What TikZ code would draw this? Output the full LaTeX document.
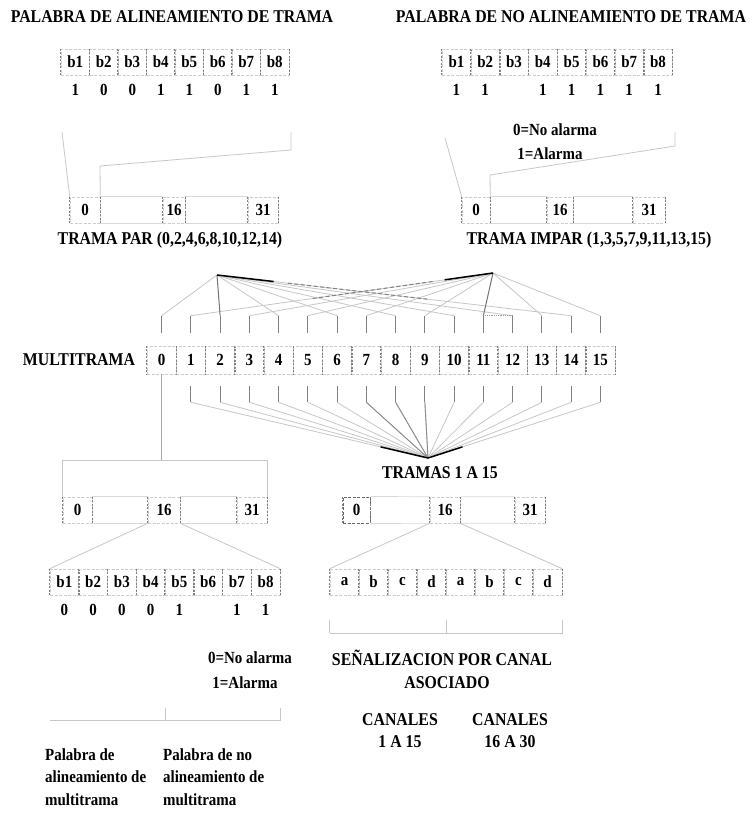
\documentclass[tikz,border=0pt]{standalone}
\usepackage{fontspec}
\setmainfont{Liberation Serif}[FakeStretch=0.88]
\usetikzlibrary{calc}
\begin{document}
\begin{tikzpicture}[x=1pt,y=-1pt,
  lbl/.style={inner sep=0pt, font=\fontsize{18}{22}\selectfont\bfseries},
  bit/.style={inner sep=0pt, font=\fontsize{17}{19}\selectfont\bfseries},
  divider/.style={draw=black!50, dash pattern=on 2pt off 1.5pt, line width=0.8pt},
  cellbox/.style={draw=black!20, dash pattern=on 3pt off 1.5pt, line width=0.6pt, minimum width=#1, minimum height=26pt, inner sep=0pt, font=\fontsize{17}{19}\selectfont\bfseries,
    append after command={(\tikzlastnode.north west) edge[divider] (\tikzlastnode.south west)
                          (\tikzlastnode.north east) edge[divider] (\tikzlastnode.south east)}},
  faint/.style={draw=black!22, line width=0.8pt},
  fdash/.style={draw=black!50, line width=1pt, dash pattern=on 4pt off 2.5pt},
  heavy/.style={draw=black, line width=1.5pt},
  strip/.style={draw=black!15, line width=0.7pt},
  tick/.style={draw=black!50, line width=0.8pt}
]
\useasboundingbox[fill=white] (0,0) rectangle (753,817);

% titles
\node[lbl] (t1) at (172,17) {PALABRA DE ALINEAMIENTO DE TRAMA};
\node[lbl] (t2) at (571,17) {PALABRA DE NO ALINEAMIENTO DE TRAMA};

% top-left bits
\foreach \i in {1,...,8} \node[cellbox=28.5pt] (tl\i) at ({61+28.5*(\i-0.5)},62) {b\i};
\foreach \i/\v in {1/1,2/0,3/0,4/1,5/1,6/0,7/1,8/1} \node[bit] (tlv\i) at (tl\i |- 0,90) {\v};

% top-right bits
\foreach \i in {1,...,8} \node[cellbox=28.8pt] (tr\i) at ({442+28.8*(\i-0.5)},62) {b\i};
\foreach \i in {1,2,4,5,6,7,8} \node[bit] (trv\i) at (tr\i |- 0,90) {1};
\node[bit] (na1) at (555,130) {0=No alarma};
\node[bit] (na2) at (550,154) {1=Alarma};

% upper frames
\node[cellbox=30pt] (fl0) at (85,210) {0};
\node[cellbox=22pt] (fl16) at (174,210) {16};
\node[cellbox=30pt] (fl31) at (263,210) {31};
\draw[strip] (fl0.north east) -- (fl16.north west) (fl0.south east) -- (fl16.south west)
             (fl16.north east) -- (fl31.north west) (fl16.south east) -- (fl31.south west);
\node[cellbox=28pt] (fr0) at (476,210) {0};
\node[cellbox=26pt] (fr16) at (560,210) {16};
\node[cellbox=32pt] (fr31) at (649,210) {31};
\draw[strip] (fr0.north east) -- (fr16.north west) (fr0.south east) -- (fr16.south west)
             (fr16.north east) -- (fr31.north west) (fr16.south east) -- (fr31.south west);
\node[lbl] (par) at (170,240) {TRAMA PAR (0,2,4,6,8,10,12,14)};
\node[lbl] (impar) at (589,240) {TRAMA IMPAR (1,3,5,7,9,11,13,15)};

% expansion lines, upper
\coordinate (ta) at (62,132);
\coordinate (tb) at (291,132);
\coordinate (tc) at (291,150);
\coordinate (td) at (100,166);
\draw[faint] (ta) -- (fl0.north west);
\draw[faint] (tb) -- (tc) -- (td) -- (fl0.north east);
\coordinate (ra) at (445,138);
\coordinate (rb) at (675,132);
\coordinate (rc) at (675,146);
\coordinate (rd) at (490,175);
\draw[faint] (ra) -- (fr0.north west);
\draw[faint] (rb) -- (rc) -- (rd) -- (fr0.north east);

% multiframe
\node[lbl] (mt) at (79,360) {MULTITRAMA};
\foreach \i in {0,...,15} {
  \node[cellbox=29.25pt, minimum height=28pt] (m\i) at ({147+29.25*(\i+0.5)},360) {\i};
  \path (m\i.north) ++(0,-13) coordinate (uB\i) ++(0,-17) coordinate (uA\i);
  \path (m\i.south) ++(0,12) coordinate (dA\i) ++(0,16) coordinate (dB\i);
  \draw[tick] (uB\i) -- (uA\i);
}
\foreach \i in {1,...,15} \draw[tick] (dA\i) -- (dB\i);

% fans from frames to multiframe
\coordinate (apL) at (217,275);
\coordinate (apR) at (493,273);
\foreach \i in {0,4,6,8,10,12,14} \draw[faint] (apL) -- (uA\i);
\foreach \i in {1,3,5,7,9,13,15} \draw[faint] (apR) -- (uA\i);
\draw[draw=black!55, line width=1pt] (apL) -- (uA2);
\draw[draw=black!55, line width=1pt] (apR) -- (uA11);
\draw[heavy] (apL) -- ($(apL)!0.16!(uA14)$);
\draw[heavy] (apR) -- ($(apR)!0.16!(uA1)$);
\draw[fdash] ($(apL)!0.2!(uA14)$) -- ($(apL)!0.6!(uA14)$);
\draw[fdash] ($(apR)!0.2!(uA1)$) -- ($(apR)!0.6!(uA1)$);
\draw[draw=black!40, densely dotted, line width=0.8pt] (uA11) -- (uA12);

% fan to TRAMAS 1 A 15
\coordinate (apT) at (428,458);
\foreach \i in {1,...,15} \draw[faint] (dB\i) -- (apT);
\foreach \i in {7,8,9} \draw[draw=black!45, line width=0.9pt] (dB\i) -- (apT);
\draw[heavy] (apT) -- ($(apT)!0.2!(dB1)$);
\draw[heavy] (apT) -- ($(apT)!0.2!(dB15)$);
\node[lbl] (tramas) at (440,473) {TRAMAS 1 A 15};

% lower frames
\node[cellbox=29pt] (ll0) at (77.5,510) {0};
\node[cellbox=32pt] (ll16) at (164,510) {16};
\node[cellbox=30pt] (ll31) at (252,510) {31};
\draw[strip] (ll0.north east) -- (ll16.north west) (ll0.south east) -- (ll16.south west)
             (ll16.north east) -- (ll31.north west) (ll16.south east) -- (ll31.south west);
\node[cellbox=27pt, draw=black!60, line width=1pt] (lr0) at (356.5,510) {0};
\node[cellbox=30pt] (lr16) at (445,510) {16};
\node[cellbox=30pt] (lr31) at (530,510) {31};
\draw[strip] (lr0.north east) -- (lr16.north west) (lr0.south east) -- (lr16.south west)
             (lr16.north east) -- (lr31.north west) (lr16.south east) -- (lr31.south west);

% slot 0 down to frame bracket
\coordinate (bk) at (m0.south |- 0,460);
\coordinate (bkL) at (ll0.north west |- 0,460);
\coordinate (bkR) at (ll31.north east |- 0,460);
\draw[faint, draw=black!35] (m0.south) -- (bk);
\draw[faint] (bkL) -- (bkR) -- (ll31.north east);
\draw[faint] (bkL) -- (ll0.north west);

% lower-left bits
\foreach \i in {1,...,8} \node[cellbox=28.75pt] (bb\i) at ({50+28.75*(\i-0.5)},582) {b\i};
\foreach \i/\v in {1/0,2/0,3/0,4/0,5/1,7/1,8/1} \node[bit] (bbv\i) at (bb\i |- 0,610) {\v};
\draw[faint] (ll16.south west) -- (bb1.north west);
\draw[faint] (ll16.south east) -- (bb8.north east);
\node[bit] (nb1) at (250,658) {0=No alarma};
\node[bit] (nb2) at (245,683) {1=Alarma};
\coordinate (lbA) at (bb1.south west |- 0,720);
\coordinate (lbM) at ($(bb4.east |- 0,720)$);
\coordinate (lbB) at (bb8.south east |- 0,720);
\draw[faint] (lbA) -- (lbB) -- ++(0,-12);
\draw[faint] (lbM) -- ++(0,-12);
\node[lbl, align=left, anchor=north west, font=\fontsize{17}{22.5}\selectfont\bfseries] (pw1) at (45,748) {Palabra de\\alineamiento de\\multitrama};
\node[lbl, align=left, anchor=north west, font=\fontsize{17}{22.5}\selectfont\bfseries] (pw2) at (163,748) {Palabra de no\\alineamiento de\\multitrama};

% signalling abcd
\foreach \i/\c in {1/a,2/b,3/c,4/d,5/a,6/b,7/c,8/d} \node[cellbox=29pt] (sa\i) at ({330+29*(\i-0.5)},582) {\c};
\draw[faint] (lr16.south west) -- (sa1.north west);
\draw[faint] (lr16.south east) -- (sa8.north east);
\coordinate (sbA) at (sa1.south west |- 0,633);
\coordinate (sbM) at (sa4.east |- 0,633);
\coordinate (sbB) at (sa8.south east |- 0,633);
\draw[faint] (sbA) -- (sbB) -- ++(0,-13);
\draw[faint] (sbA) -- ++(0,-13);
\draw[faint] (sbM) -- ++(0,-13);
\node[lbl] (sen) at (442,658) {SEÑALIZACION POR CANAL};
\node[lbl] (aso) at (447,683) {ASOCIADO};
\node[lbl, align=center] (c1) at (400,731) {CANALES\\1 A 15};
\node[lbl, align=center] (c2) at (510,731) {CANALES\\16 A 30};
\end{tikzpicture}
\end{document}
